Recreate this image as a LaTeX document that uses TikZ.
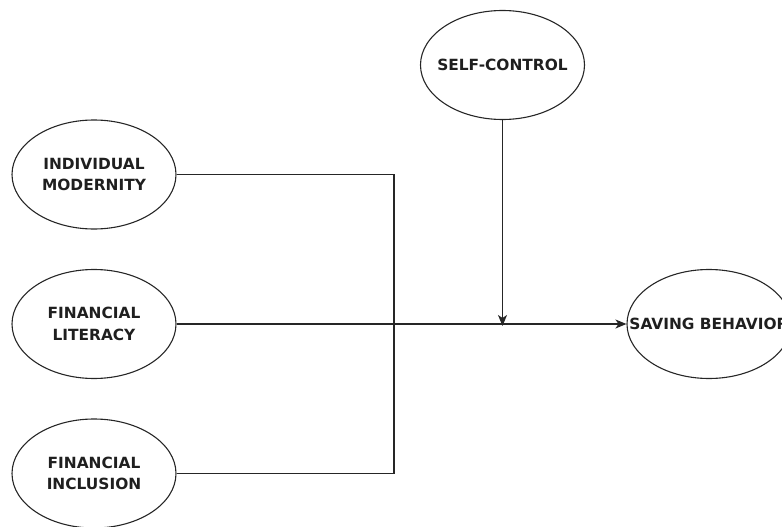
\documentclass[tikz,border=0pt]{standalone}
\usepackage{fontspec}
\setmainfont{DejaVu Sans}
\usetikzlibrary{shapes.geometric,arrows.meta}
\begin{document}
\begin{tikzpicture}[x=1pt,y=-1pt,
  latent/.style={ellipse,draw=black!85,line width=1.1pt,minimum width=164pt,minimum height=109pt,inner sep=0pt},
  lbl/.style={align=center,inner sep=0pt,font=\fontsize{15.4pt}{21.5pt}\selectfont\bfseries,text=black!88},
  conn/.style={draw=black!85,line width=1.2pt},
  arr/.style={conn,-{Stealth[length=11pt,width=9pt,inset=3pt]}}]
\useasboundingbox (0,0) rectangle (782,527);
\node[latent,label={[lbl]center:INDIVIDUAL\\MODERNITY}] (im) at (94,174.5) {};
\node[latent,label={[lbl]center:FINANCIAL\\LITERACY}] (fl) at (94,324) {};
\node[latent,label={[lbl]center:FINANCIAL\\INCLUSION}] (fi) at (94,473.5) {};
\node[latent,label={[lbl]center:SELF-CONTROL}] (sc) at (502.5,65) {};
\node[latent,label={[lbl]center:SAVING BEHAVIOR}] (sb) at (709,324) {};
\coordinate (join) at (394,174.5);
\coordinate (hit) at (sc.south |- fl.east);
\path[conn] (im.east) -- (join) |- (fi.east);
\path[arr] (fl.east) -- (sb.west);
\path[arr] (sc.south) -- ([yshift=-2pt]hit);
\end{tikzpicture}
\end{document}
